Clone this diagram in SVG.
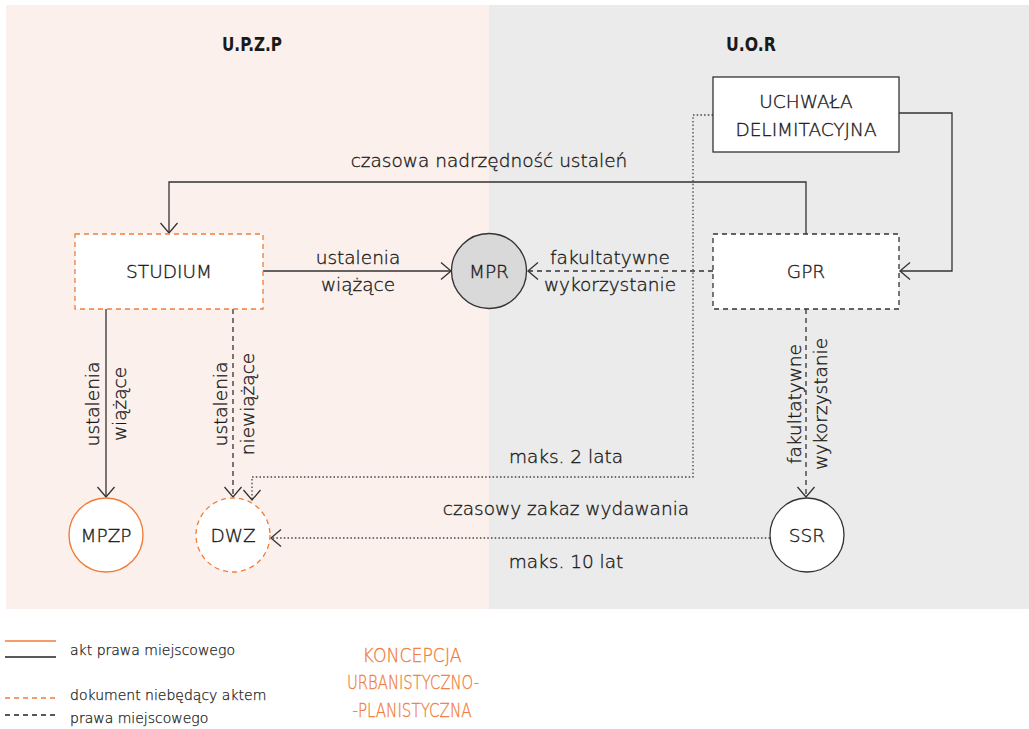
<svg xmlns="http://www.w3.org/2000/svg" width="1029" height="729" viewBox="0 0 1029 729">
<defs>
<style>
text{font-family:"DejaVu Sans","Liberation Sans",sans-serif;font-weight:300;fill:#1a1a1a;stroke:#1a1a1a;stroke-width:0.35;font-size:18.5px}
.mid{text-anchor:middle}
.title{font-family:"DejaVu Sans Condensed","Liberation Sans",sans-serif;font-weight:bold;font-size:20px;fill:#1a1a1a;stroke:none}
.leg{font-size:14px;stroke-width:0.25}
.kon{font-size:20px;fill:#f07d3a;stroke:#f07d3a;stroke-width:0.3;text-anchor:middle}
.ln{fill:none;stroke:#333;stroke-width:1.3}
.dash{stroke-dasharray:5,4}
.dot{stroke-dasharray:1.5,2.2;stroke:#444}
.box{fill:#fff;stroke:#333;stroke-width:1.3}
.obox{fill:#fff;stroke:#f07d3a;stroke-width:1.3}
</style>
<marker id="arr" markerUnits="userSpaceOnUse" markerWidth="24" markerHeight="24" refX="12" refY="12" orient="auto" overflow="visible">
<path d="M2,3.5 L12,12 L2,20.5" fill="none" stroke="#333" stroke-width="1.3"/>
</marker>
</defs>
<rect x="6" y="5" width="483" height="604" fill="#fbf0eb"/>
<rect x="489" y="5" width="540" height="604" fill="#ebebeb"/>
<text class="title mid" x="252" y="51" textLength="60" lengthAdjust="spacingAndGlyphs">U.P.Z.P</text>
<text class="title mid" x="751" y="51" textLength="50" lengthAdjust="spacingAndGlyphs">U.O.R</text>

<g id="connectors">
<polyline class="ln" points="899,113 952,113 952,271 900,271" marker-end="url(#arr)"/>
<polyline class="ln" points="806,234 806,182 169,182 169,233" marker-end="url(#arr)"/>
<line class="ln" x1="263" y1="271" x2="451" y2="271" marker-end="url(#arr)"/>
<line class="ln dash" x1="713" y1="271" x2="528" y2="271" marker-end="url(#arr)"/>
<line class="ln" x1="106" y1="309" x2="106" y2="497" marker-end="url(#arr)"/>
<line class="ln dash" x1="233" y1="309" x2="233" y2="497" marker-end="url(#arr)"/>
<line class="ln dash" x1="806" y1="309" x2="806" y2="497" marker-end="url(#arr)"/>
<polyline class="ln dot" points="713,115 693,115 693,477 252,477 252,500" marker-end="url(#arr)"/>
<line class="ln dot" x1="770" y1="538" x2="271" y2="538" marker-end="url(#arr)"/>
</g>

<g id="uchwala">
<rect class="box" x="713" y="77" width="186" height="75"/>
<text class="mid" x="806" y="108">UCHWAŁA</text>
<text class="mid" x="806" y="136">DELIMITACYJNA</text>
</g>
<g id="gpr">
<rect class="box dash" x="713" y="234" width="186" height="75"/>
<text class="mid" x="806" y="278">GPR</text>
</g>
<g id="studium">
<rect class="obox dash" x="75" y="234" width="188" height="75"/>
<text class="mid" x="169" y="278">STUDIUM</text>
</g>
<g id="mpr">
<circle cx="489" cy="271" r="37.5" fill="#d9d9d9" stroke="#333" stroke-width="1.3"/>
<text class="mid" x="489" y="278">MPR</text>
</g>
<g id="mpzp">
<circle cx="106" cy="535" r="37" fill="#fff" stroke="#f07d3a" stroke-width="1.4"/>
<text class="mid" x="106" y="542">MPZP</text>
</g>
<g id="dwz">
<circle class="obox dash" cx="233" cy="535" r="37"/>
<text class="mid" x="233" y="542">DWZ</text>
</g>
<g id="ssr">
<circle class="box" cx="807" cy="535" r="37"/>
<text class="mid" x="807" y="542">SSR</text>
</g>

<g id="labels">
<text class="mid" x="489" y="167">czasowa nadrzędność ustaleń</text>
<text class="mid" x="358" y="264">ustalenia</text>
<text class="mid" x="358" y="291">wiążące</text>
<text class="mid" x="610" y="264">fakultatywne</text>
<text class="mid" x="610" y="291">wykorzystanie</text>
<text class="mid" transform="translate(99,404) rotate(-90)">ustalenia</text>
<text class="mid" transform="translate(126,404) rotate(-90)">wiążące</text>
<text class="mid" transform="translate(227,404) rotate(-90)">ustalenia</text>
<text class="mid" transform="translate(254,404) rotate(-90)">niewiążące</text>
<text class="mid" transform="translate(801,404) rotate(-90)">fakultatywne</text>
<text class="mid" transform="translate(827,404) rotate(-90)">wykorzystanie</text>
<text class="mid" x="566" y="463">maks. 2 lata</text>
<text class="mid" x="566" y="515">czasowy zakaz wydawania</text>
<text class="mid" x="566" y="568">maks. 10 lat</text>
</g>

<g id="legend">
<line x1="5" y1="641" x2="56" y2="641" stroke="#f07d3a" stroke-width="1.3"/>
<line x1="5" y1="657" x2="56" y2="657" stroke="#222" stroke-width="1.3"/>
<text class="leg" x="70" y="655">akt prawa miejscowego</text>
<line x1="5" y1="698" x2="56" y2="698" stroke="#f07d3a" stroke-width="1.3" stroke-dasharray="5,4"/>
<line x1="5" y1="715" x2="56" y2="715" stroke="#222" stroke-width="1.3" stroke-dasharray="5,4"/>
<text class="leg" x="70" y="700">dokument niebędący aktem</text>
<text class="leg" x="70" y="723">prawa miejscowego</text>
<text class="kon" x="412" y="662" textLength="99" lengthAdjust="spacingAndGlyphs">KONCEPCJA</text>
<text class="kon" x="413" y="689" textLength="132" lengthAdjust="spacingAndGlyphs">URBANISTYCZNO-</text>
<text class="kon" x="412" y="717" textLength="119" lengthAdjust="spacingAndGlyphs">-PLANISTYCZNA</text>
</g>
</svg>
